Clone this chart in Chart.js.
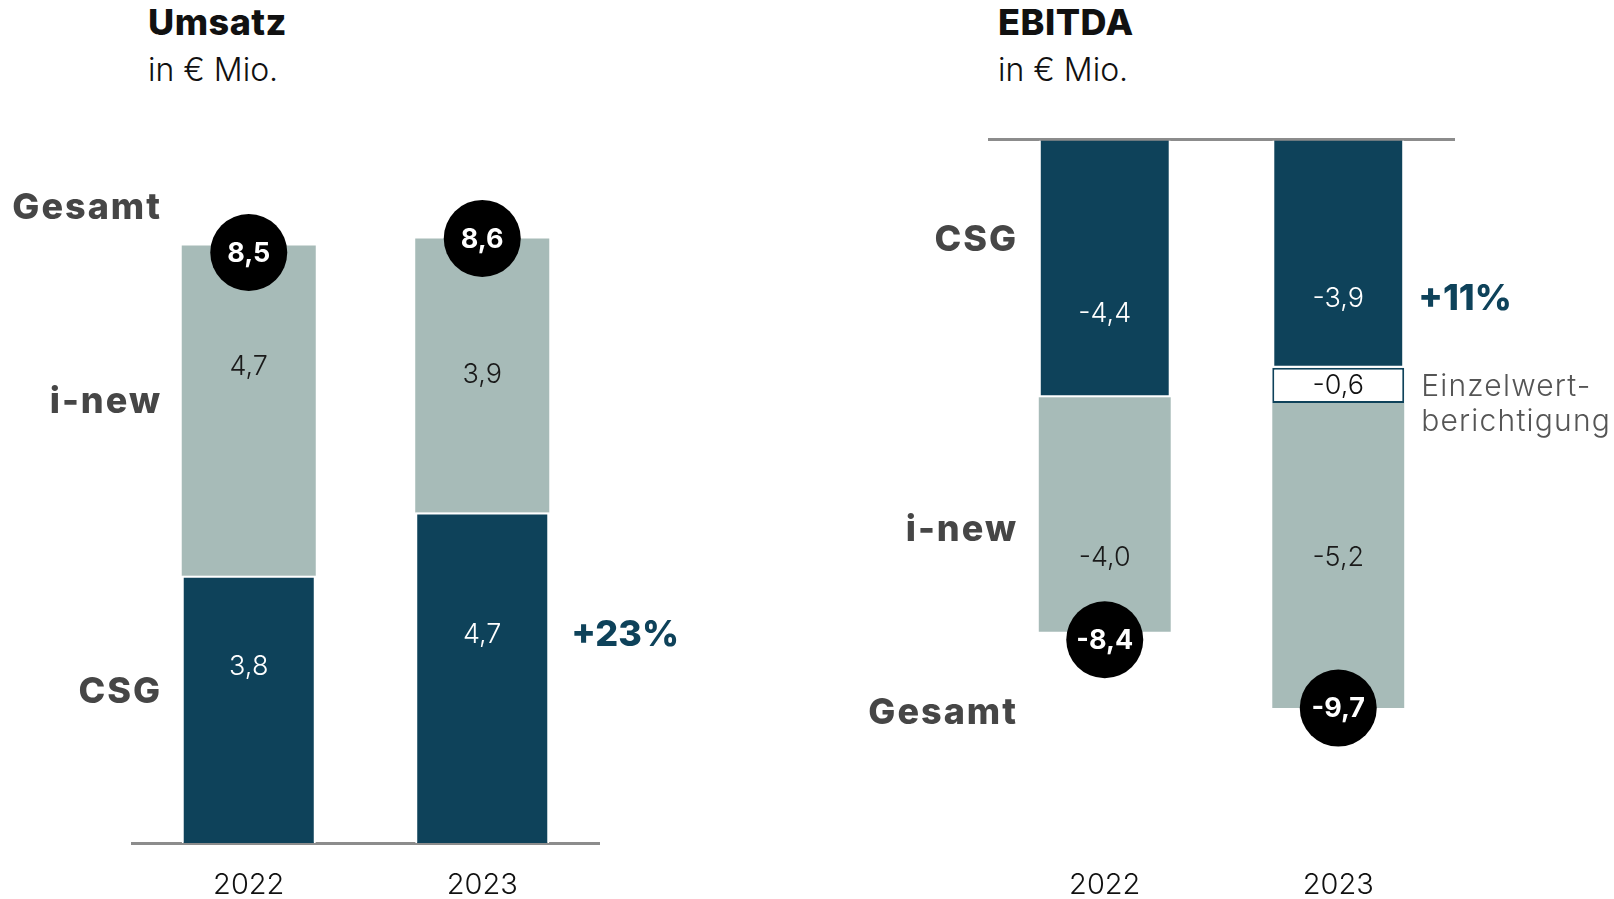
<!DOCTYPE html>
<html>
<head>
<meta charset="utf-8">
<script src="https://cdn.jsdelivr.net/npm/chart.js@4.4.1/dist/chart.umd.min.js"></script>
<style>
  html, body { margin: 0; padding: 0; background: #fff; width: 1614px; height: 899px; overflow: hidden; }
  .box { position: absolute; top: 0; width: 807px; height: 927px; }
  .title { position: absolute; top: 0; font-family: Inter, sans-serif; color: #111; }
  .title b { display: block; font-size: 36px; font-weight: 800; line-height: 44px; letter-spacing: 0.5px; }
  .title span { display: block; font-size: 32px; font-weight: 300; line-height: 36px; margin-top: 8px; }
</style>
</head>
<body>
<div class="title" style="left:148px"><b>Umsatz</b><span>in € Mio.</span></div>
<div class="title" style="left:998px"><b>EBITDA</b><span>in € Mio.</span></div>
<div class="box" style="left:0"><canvas id="umsatz"></canvas></div>
<div class="box" style="left:807px"><canvas id="ebitda"></canvas></div>
<script>
const years = ['2022', '2023'];

const umsatzCSG = [3.8, 4.7];
const umsatzINew = [4.7, 3.9];
const umsatzGesamt = [8.5, 8.6];
const umsatzGrowth = '+23%';

const ebitdaCSG = [-4.4, -3.9];
const ebitdaEWB = [null, -0.6];
const ebitdaINew = [-4.0, -5.2];
const ebitdaGesamt = [-8.4, -9.7];
const ebitdaGrowth = '+11%';

const TEAL = '#0e425a';
const SAGE = '#a7bbb8';
const FONT = 'Inter, sans-serif';

const fmt = v => v.toFixed(1).replace('.', ',');

// draws value labels, total bubbles, row names and side notes
const annot = {
  id: 'annot',
  afterDraw(chart, args, o) {
    const ctx = chart.ctx;
    const y = chart.scales.y;
    const area = chart.chartArea;
    ctx.save();
    ctx.textAlign = 'center';
    ctx.textBaseline = 'middle';

    chart.data.datasets.forEach((ds, di) => {
      chart.getDatasetMeta(di).data.forEach((bar, i) => {
        const v = ds.data[i];
        if (v == null) return;
        ctx.font = '300 27px ' + FONT;
        ctx.fillStyle = o.textColor[di];
        ctx.fillText(fmt(v), bar.x, (bar.y + bar.base) / 2 + o.shift[di][i]);
      });
    });

    const first = chart.getDatasetMeta(0).data;
    o.totals.forEach((t, i) => {
      const cx = first[i].x;
      const cy = y.getPixelForValue(t) + o.circleShift[i];
      ctx.beginPath();
      ctx.arc(cx, cy, 38.5, 0, Math.PI * 2);
      ctx.fillStyle = '#000';
      ctx.fill();
      ctx.fillStyle = '#fff';
      ctx.font = '700 27px ' + FONT;
      ctx.fillText(fmt(t), cx, cy + 1);
    });

    ctx.textAlign = 'right';
    ctx.font = '800 36px ' + FONT;
    ctx.letterSpacing = '2px';
    ctx.fillStyle = '#464646';
    o.rows.forEach(r => ctx.fillText(r.text, area.left + 30, y.getPixelForValue(r.at)));

    // growth figure next to the 2023 CSG bar
    const g = first[1];
    ctx.textAlign = 'left';
    ctx.letterSpacing = '0px';
    ctx.font = '800 36px ' + FONT;
    ctx.fillStyle = TEAL;
    ctx.fillText(o.growth, g.x + g.width / 2 + o.growthGap, (g.y + g.base) / 2 + o.shift[0][1]);

    if (o.note) {
      const b = chart.getDatasetMeta(o.note.dataset).data[o.note.index];
      ctx.font = '300 30px ' + FONT;
      ctx.letterSpacing = '1.2px';
      ctx.fillStyle = '#555';
      o.note.lines.forEach((l, k) => ctx.fillText(l, b.x + b.width / 2 + 17, (b.y + b.base) / 2 + 2 + k * 35));
    }
    ctx.restore();
  }
};

const xAxis = (border) => ({
  stacked: true,
  grid: { display: false, drawTicks: false, tickLength: 0 },
  border: { display: border, color: '#8c8c8c', width: 3 },
  ticks: { padding: 0, color: '#111', font: { family: FONT, size: 29, weight: '300', lineHeight: '84px' } },
  z: 1
});

new Chart(document.getElementById('umsatz'), {
  type: 'bar',
  data: {
    labels: years,
    datasets: [
      { label: 'CSG', data: umsatzCSG, backgroundColor: TEAL, borderColor: '#fff', borderWidth: 2 },
      { label: 'i-new', data: umsatzINew, backgroundColor: SAGE }
    ]
  },
  options: {
    responsive: true,
    maintainAspectRatio: false,
    animation: false,
    barPercentage: 0.574,
    categoryPercentage: 1,
    layout: { padding: { left: 132, right: 208, top: 140, bottom: 0 } },
    scales: {
      x: xAxis(true),
      y: { stacked: true, display: false, min: 0, max: 10 }
    },
    plugins: {
      legend: { display: false },
      tooltip: { enabled: false },
      annot: {
        textColor: ['#fff', '#1a1a1a'],
        shift: [[-43, -43], [-44, -1]],
        totals: umsatzGesamt,
        circleShift: [7, 0],
        rows: [{ text: 'Gesamt', at: 9.03 }, { text: 'i-new', at: 6.27 }, { text: 'CSG', at: 2.15 }],
        growth: umsatzGrowth,
        growthGap: 22
      }
    }
  },
  plugins: [annot]
});

new Chart(document.getElementById('ebitda'), {
  type: 'bar',
  data: {
    labels: years,
    datasets: [
      { label: 'CSG', data: ebitdaCSG, backgroundColor: TEAL, borderColor: '#fff', borderWidth: 2 },
      { label: 'Einzelwertberichtigung', data: ebitdaEWB, backgroundColor: '#fff', borderColor: TEAL, borderWidth: 2, borderSkipped: false },
      { label: 'i-new', data: ebitdaINew, backgroundColor: SAGE }
    ]
  },
  options: {
    responsive: true,
    maintainAspectRatio: false,
    animation: false,
    barPercentage: 0.565,
    categoryPercentage: 1,
    layout: { padding: { left: 181, right: 159, top: 139, bottom: 0 } },
    scales: {
      x: xAxis(false),
      y: {
        stacked: true, min: -12, max: 0, z: 1,
        ticks: { display: false },
        border: { display: false },
        grid: {
          drawTicks: false,
          lineWidth: 3,
          color: c => c.tick && c.tick.value === 0 ? '#8c8c8c' : 'rgba(0,0,0,0)'
        }
      }
    },
    plugins: {
      legend: { display: false },
      tooltip: { enabled: false },
      annot: {
        textColor: ['#fff', '#111', '#1a1a1a'],
        shift: [[45, 45], [0, 0], [43, 2]],
        totals: ebitdaGesamt,
        circleShift: [8, 0],
        rows: [{ text: 'CSG', at: -1.72 }, { text: 'i-new', at: -6.67 }, { text: 'Gesamt', at: -9.78 }],
        growth: ebitdaGrowth,
        growthGap: 14,
        note: { dataset: 1, index: 1, lines: ['Einzelwert-', 'berichtigung'] }
      }
    }
  },
  plugins: [annot]
});
</script>
</body>
</html>
